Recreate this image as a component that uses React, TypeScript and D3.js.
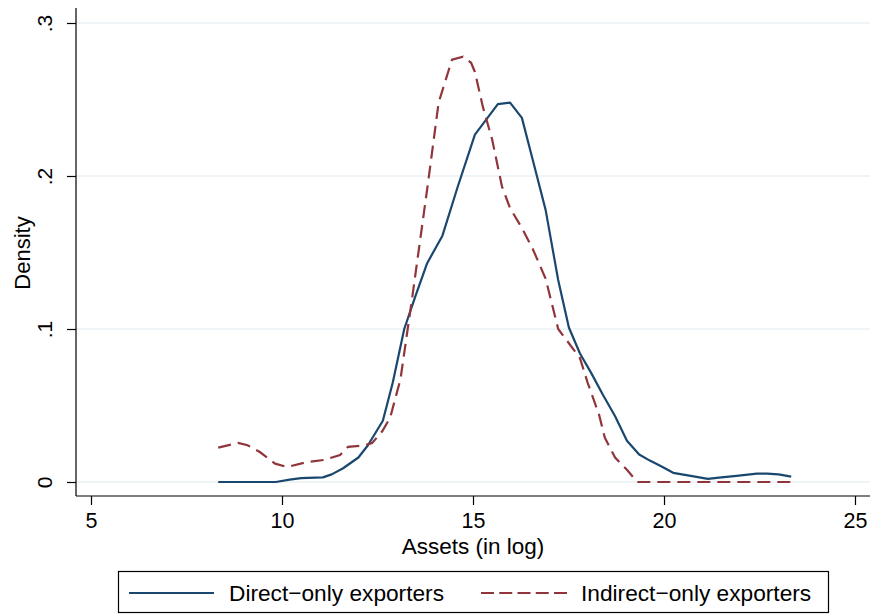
import React, { useEffect, useRef } from "react";
import * as d3 from "d3";

// Direct-only exporters: kernel density of log assets
const directX = [8.33, 9.0, 9.84, 10.2, 10.5, 11.07, 11.3, 11.6, 12.0, 12.25, 12.64, 12.9, 13.2, 13.5, 13.8, 14.2, 14.6, 15.05, 15.35, 15.65, 15.97, 16.28, 16.57, 16.9, 17.23, 17.51, 17.8, 18.1, 18.4, 18.72, 19.03, 19.35, 19.63, 19.95, 20.24, 20.7, 21.15, 21.5, 21.9, 22.43, 22.7, 23.0, 23.33];
const directY = [0, 0, 0, 0.0015, 0.0025, 0.003, 0.005, 0.009, 0.016, 0.024, 0.04, 0.065, 0.1, 0.122, 0.143, 0.161, 0.193, 0.227, 0.237, 0.247, 0.248, 0.238, 0.21, 0.178, 0.132, 0.101, 0.084, 0.071, 0.057, 0.043, 0.027, 0.018, 0.014, 0.01, 0.006, 0.004, 0.002, 0.003, 0.004, 0.0055, 0.0055, 0.005, 0.0035];

// Indirect-only exporters
const indirectX = [8.33, 8.85, 9.1, 9.42, 9.82, 10.13, 10.65, 11.1, 11.52, 11.73, 12.17, 12.36, 12.62, 12.83, 13.1, 13.4, 13.82, 14.1, 14.45, 14.74, 14.95, 15.05, 15.26, 15.5, 15.76, 15.97, 16.28, 16.57, 16.9, 17.23, 17.5, 17.8, 18.0, 18.3, 18.45, 18.72, 19.03, 19.3, 19.6, 20.2, 21.0, 22.0, 23.33];
const indirectY = [0.0225, 0.0255, 0.024, 0.0196, 0.012, 0.0098, 0.013, 0.0144, 0.0176, 0.023, 0.024, 0.0255, 0.033, 0.042, 0.067, 0.119, 0.195, 0.248, 0.276, 0.278, 0.274, 0.268, 0.245, 0.224, 0.193, 0.179, 0.166, 0.152, 0.133, 0.1, 0.091, 0.081, 0.065, 0.044, 0.029, 0.016, 0.008, 0, 0, 0, 0, 0, 0];

const xTicks = [5, 10, 15, 20, 25];
const yTicks = [0, 0.1, 0.2, 0.3];
const yTickLabels = ["0", ".1", ".2", ".3"];
const seriesNames = ["Direct\u2212only exporters", "Indirect\u2212only exporters"];

const W = 873;
const H = 614;
const font = "'Liberation Sans', Arial, sans-serif";
const blue = "#1a476f";
const red = "#90353b";

const App = () => {
  const ref = useRef<SVGSVGElement>(null);

  useEffect(() => {
    const svg = d3.select(ref.current);
    svg.selectAll("*").remove();

    // plot frame
    const left = 76, right = 870, top = 8, bottom = 496;

    const x = d3.scaleLinear().domain([5, 25]).range([91, 855]);
    const y = d3.scaleLinear().domain([0, 0.3]).range([482, 23]);

    svg.append("rect").attr("width", W).attr("height", H).attr("fill", "white");

    // gridlines
    svg
      .append("g")
      .selectAll("line")
      .data(yTicks)
      .enter()
      .append("line")
      .attr("x1", left)
      .attr("x2", right)
      .attr("y1", (d) => y(d))
      .attr("y2", (d) => y(d))
      .attr("stroke", "#eaf2f3")
      .attr("stroke-width", 1.5);

    // y axis
    const yAxis = svg.append("g").attr("transform", `translate(${left},0)`);
    yAxis
      .call(d3.axisLeft(y).tickValues(yTicks).tickSize(9).tickSizeOuter(0).tickFormat((d, i) => yTickLabels[i]))
      .call((g) => g.select(".domain").attr("d", `M0,${top}V${bottom}`).attr("stroke", "#000").attr("stroke-width", 1.2))
      .call((g) => g.selectAll(".tick line").attr("stroke", "#000").attr("stroke-width", 1.2));
    yAxis
      .selectAll(".tick text")
      .attr("x", null)
      .attr("dy", null)
      .attr("transform", "translate(-24,0) rotate(-90)")
      .attr("text-anchor", "middle")
      .attr("font-family", font)
      .attr("font-size", 21)
      .attr("fill", "#000");

    // x axis
    const xAxis = svg.append("g").attr("transform", `translate(0,${bottom})`);
    xAxis
      .call(d3.axisBottom(x).tickValues(xTicks).tickSize(9).tickSizeOuter(0).tickFormat(d3.format("d")))
      .call((g) => g.select(".domain").attr("d", `M${left},0H${right}`).attr("stroke", "#000").attr("stroke-width", 1.2))
      .call((g) => g.selectAll(".tick line").attr("stroke", "#000").attr("stroke-width", 1.2));
    xAxis
      .selectAll(".tick text")
      .attr("y", 32)
      .attr("dy", null)
      .attr("font-family", font)
      .attr("font-size", 21.5)
      .attr("fill", "#000");

    // axis titles
    svg
      .append("text")
      .attr("x", 473)
      .attr("y", 554)
      .attr("text-anchor", "middle")
      .attr("font-family", font)
      .attr("font-size", 22.5)
      .text("Assets (in log)");
    svg
      .append("text")
      .attr("transform", "translate(30,253) rotate(-90)")
      .attr("text-anchor", "middle")
      .attr("font-family", font)
      .attr("font-size", 22)
      .text("Density");

    // density lines
    const line = d3
      .line<[number, number]>()
      .x((d) => x(d[0]))
      .y((d) => y(d[1]));

    svg
      .append("path")
      .datum(directX.map((v, i) => [v, directY[i]] as [number, number]))
      .attr("d", line)
      .attr("fill", "none")
      .attr("stroke", blue)
      .attr("stroke-width", 2.2)
      .attr("stroke-linejoin", "round");

    svg
      .append("path")
      .datum(indirectX.map((v, i) => [v, indirectY[i]] as [number, number]))
      .attr("d", line)
      .attr("fill", "none")
      .attr("stroke", red)
      .attr("stroke-width", 2.2)
      .attr("stroke-dasharray", "13 7");

    // legend
    const lg = svg.append("g");
    lg.append("rect")
      .attr("x", 118.5)
      .attr("y", 571.5)
      .attr("width", 710)
      .attr("height", 41)
      .attr("fill", "white")
      .attr("stroke", "#000")
      .attr("stroke-width", 1.2);
    lg.append("line")
      .attr("x1", 129).attr("x2", 214).attr("y1", 593).attr("y2", 593)
      .attr("stroke", blue).attr("stroke-width", 2.2);
    lg.append("text")
      .attr("x", 229).attr("y", 601)
      .attr("font-family", font).attr("font-size", 22.7)
      .text(seriesNames[0]);
    lg.append("line")
      .attr("x1", 481).attr("x2", 567).attr("y1", 593).attr("y2", 593)
      .attr("stroke", red).attr("stroke-width", 2.2).attr("stroke-dasharray", "13 5.25");
    lg.append("text")
      .attr("x", 581).attr("y", 601)
      .attr("font-family", font).attr("font-size", 22.7)
      .text(seriesNames[1]);
  }, []);

  return (
    <div style={{ position: "absolute", left: 0, top: 0 }}>
      <svg ref={ref} width={W} height={H} style={{ display: "block" }} />
    </div>
  );
};

export default App;
